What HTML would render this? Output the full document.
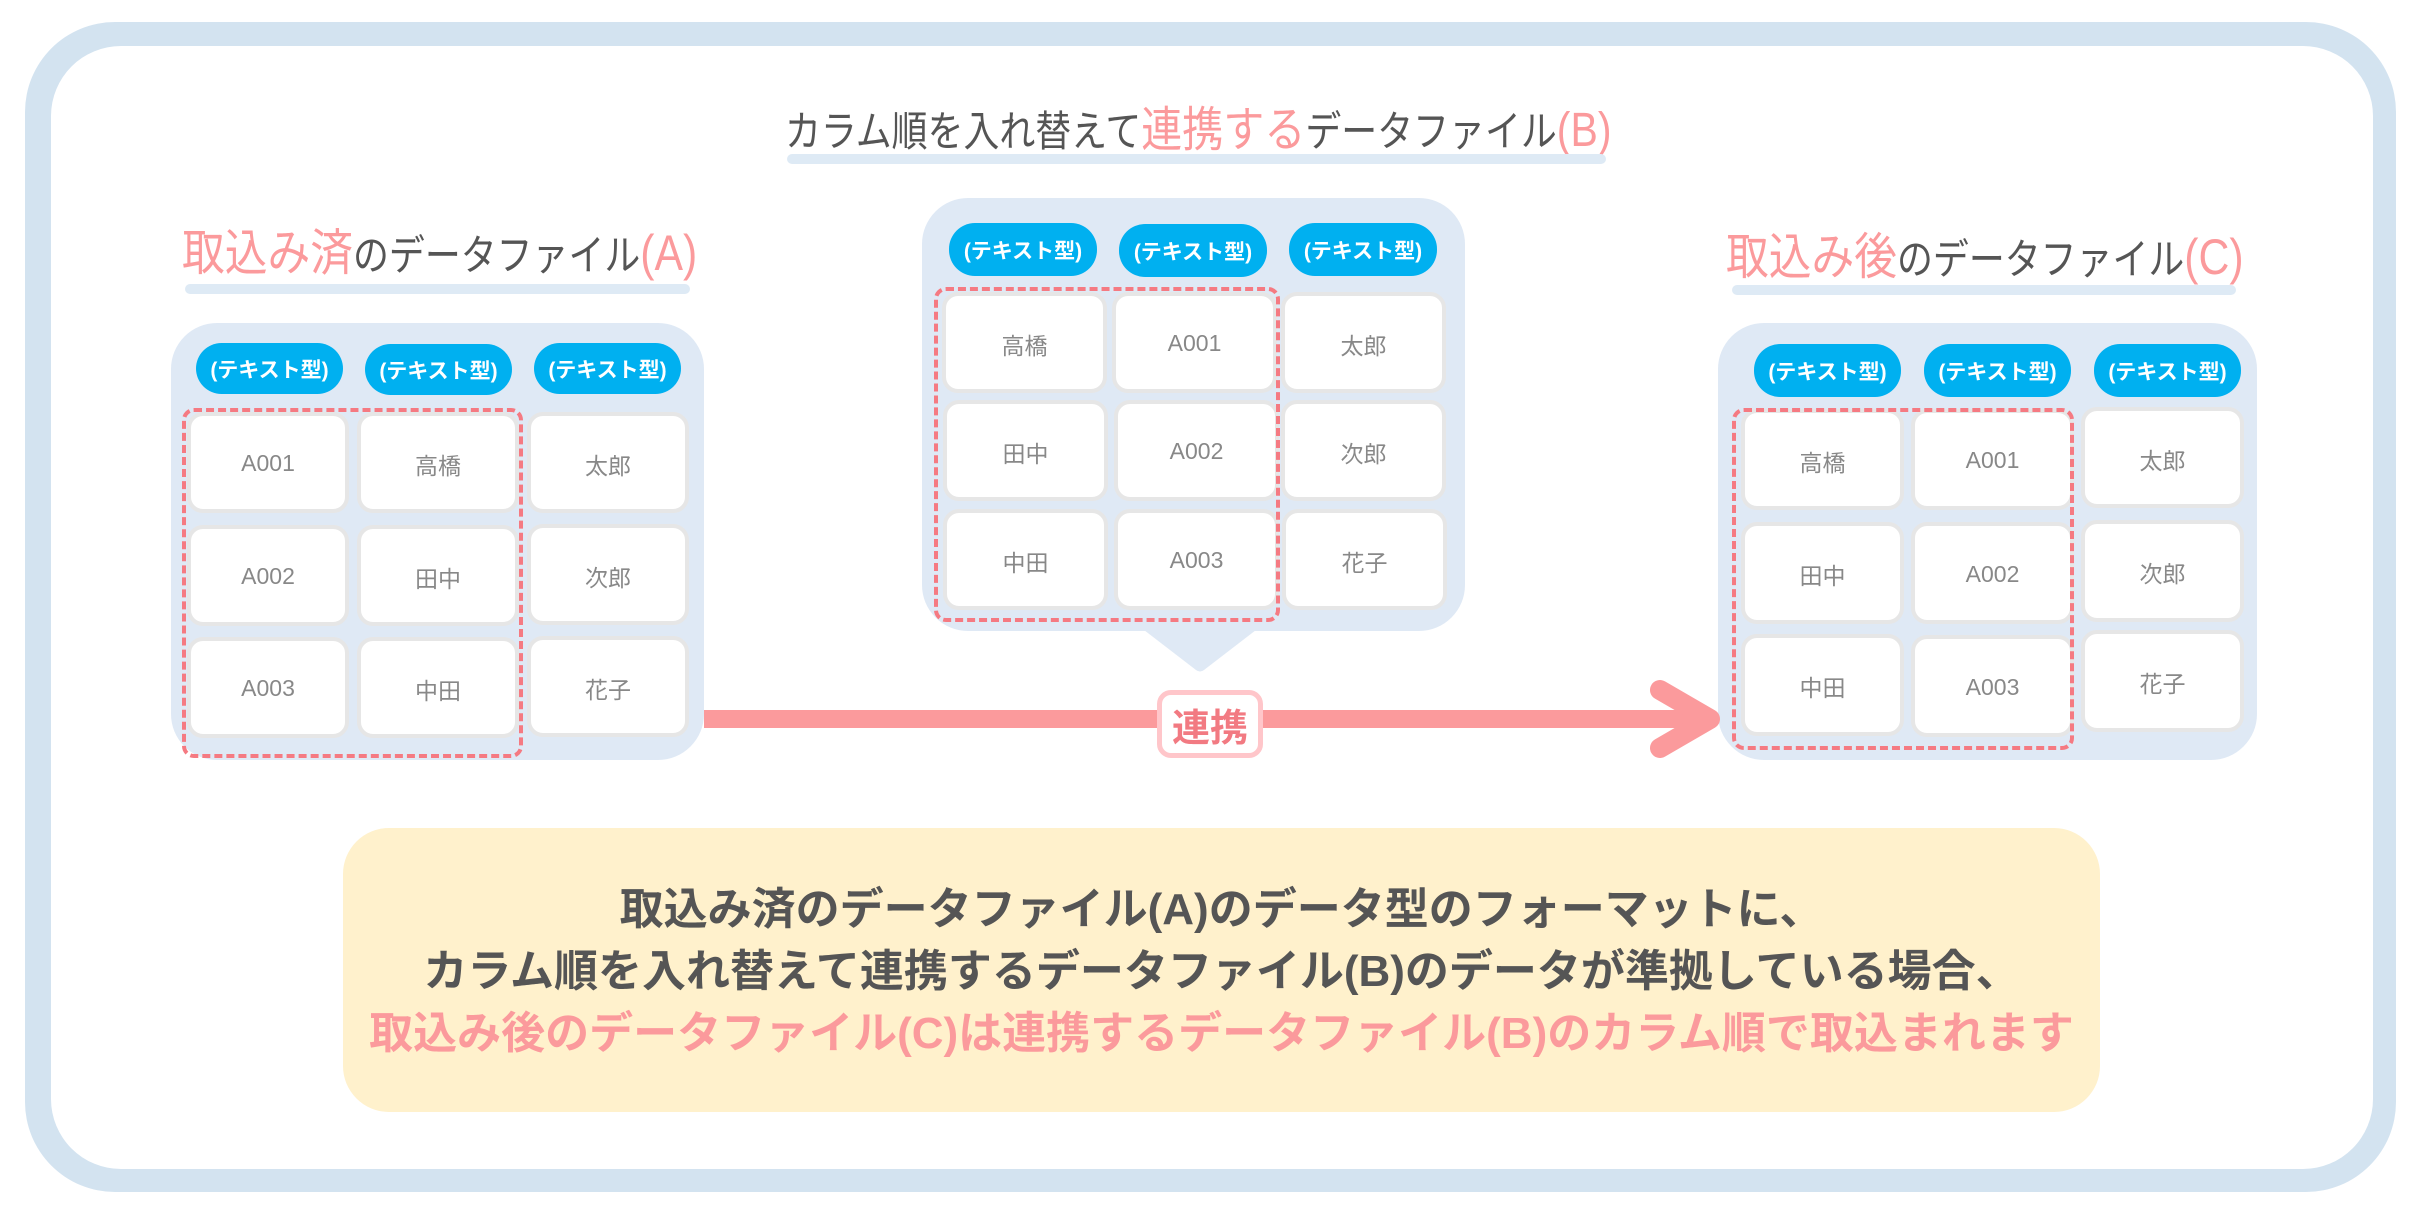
<!DOCTYPE html>
<html><head><meta charset="utf-8"><style>
*{margin:0;padding:0;box-sizing:border-box}
body{width:2421px;height:1211px;background:#fff;position:relative;overflow:hidden;font-family:"Liberation Sans","Noto Sans CJK JP",sans-serif}
.a{position:absolute}
.frame{left:25px;top:22px;width:2371px;height:1170px;background:#d3e3f0;border-radius:90px}
.inner{left:51px;top:46px;width:2322px;height:1123px;background:#fff;border-radius:70px}
.bar{position:absolute;background:#deeaf5;border-radius:5px;height:10px}
.panel{position:absolute;background:#dfe9f5;border-radius:46px}
.pill{position:absolute;background:#00b0f0;color:#fff;font-weight:bold;font-size:21px;border-radius:26px;display:flex;align-items:center;justify-content:center}
.cell{position:absolute;background:#fff;border:4px solid #e6e6e6;border-radius:16px;color:#888;font-size:23px;display:flex;align-items:center;justify-content:center;padding-top:2px}
.dash{position:absolute;border:4px dashed #f57a82;border-radius:12px}
.t{position:absolute;white-space:nowrap;color:#555;line-height:1}
.sq{transform:scaleX(0.855);transform-origin:0 0}
.pk{color:#fb9a9c}
</style></head><body>
<div class="a frame"></div><div class="a inner"></div>

<!-- Title B -->
<div class="t sq" style="left:785px;top:107px;font-size:42px;">カラム順を入れ替えて<span class="pk" style="font-size:48px">連携する</span>データファイル<span class="pk" style="font-size:48px">(B)</span></div>
<div class="bar" style="left:787px;top:154px;width:819px"></div>

<!-- Title A -->
<div class="t sq" style="left:182px;top:228px;font-size:42px;"><span class="pk" style="font-size:50px">取込み済</span>のデータファイル<span class="pk" style="font-size:50px">(A)</span></div>
<div class="bar" style="left:185px;top:284px;width:505px"></div>

<!-- Title C -->
<div class="t sq" style="left:1726px;top:232px;font-size:42px;"><span class="pk" style="font-size:50px">取込み後</span>のデータファイル<span class="pk" style="font-size:50px">(C)</span></div>
<div class="bar" style="left:1732px;top:285px;width:504px"></div>

<!-- Panel A -->
<div class="panel" style="left:171px;top:323px;width:533px;height:437px"></div>
<div class="pill" style="left:196px;top:343px;width:147px;height:51px">(テキスト型)</div>
<div class="pill" style="left:365px;top:344px;width:147px;height:51px">(テキスト型)</div>
<div class="pill" style="left:534px;top:343px;width:147px;height:51px">(テキスト型)</div>
<div class="cell" style="left:187px;top:412px;width:162px;height:101px">A001</div>
<div class="cell" style="left:357px;top:412px;width:162px;height:101px">高橋</div>
<div class="cell" style="left:527px;top:412px;width:162px;height:101px">太郎</div>
<div class="cell" style="left:187px;top:525px;width:162px;height:101px">A002</div>
<div class="cell" style="left:357px;top:525px;width:162px;height:101px">田中</div>
<div class="cell" style="left:527px;top:524px;width:162px;height:101px">次郎</div>
<div class="cell" style="left:187px;top:637px;width:162px;height:101px">A003</div>
<div class="cell" style="left:357px;top:637px;width:162px;height:101px">中田</div>
<div class="cell" style="left:527px;top:636px;width:162px;height:101px">花子</div>
<div class="dash" style="left:182px;top:408px;width:341px;height:350px"></div>

<!-- Panel B -->
<svg class="a" style="left:1130px;top:620px" width="140" height="60"><path d="M14 0 L126 0 L126 10 L74 50 Q70 53 66 50 L14 10 Z" fill="#dfe9f5"/></svg>
<div class="panel" style="left:922px;top:198px;width:543px;height:433px"></div>
<div class="pill" style="left:949px;top:223px;width:148px;height:53px">(テキスト型)</div>
<div class="pill" style="left:1119px;top:224px;width:148px;height:53px">(テキスト型)</div>
<div class="pill" style="left:1289px;top:223px;width:148px;height:53px">(テキスト型)</div>
<div class="cell" style="left:942px;top:292px;width:165px;height:101px">高橋</div>
<div class="cell" style="left:1112px;top:292px;width:165px;height:101px">A001</div>
<div class="cell" style="left:1281px;top:292px;width:165px;height:101px">太郎</div>
<div class="cell" style="left:943px;top:400px;width:165px;height:101px">田中</div>
<div class="cell" style="left:1114px;top:400px;width:165px;height:101px">A002</div>
<div class="cell" style="left:1281px;top:400px;width:165px;height:101px">次郎</div>
<div class="cell" style="left:943px;top:509px;width:165px;height:101px">中田</div>
<div class="cell" style="left:1114px;top:509px;width:165px;height:101px">A003</div>
<div class="cell" style="left:1282px;top:509px;width:165px;height:101px">花子</div>
<div class="dash" style="left:934px;top:287px;width:346px;height:335px"></div>

<!-- Panel C -->
<div class="panel" style="left:1718px;top:323px;width:539px;height:437px"></div>
<div class="pill" style="left:1754px;top:344px;width:147px;height:53px">(テキスト型)</div>
<div class="pill" style="left:1924px;top:344px;width:147px;height:53px">(テキスト型)</div>
<div class="pill" style="left:2094px;top:344px;width:147px;height:53px">(テキスト型)</div>
<div class="cell" style="left:1741px;top:409px;width:163px;height:101px">高橋</div>
<div class="cell" style="left:1911px;top:409px;width:163px;height:101px">A001</div>
<div class="cell" style="left:2081px;top:407px;width:163px;height:101px">太郎</div>
<div class="cell" style="left:1741px;top:522px;width:163px;height:102px">田中</div>
<div class="cell" style="left:1911px;top:522px;width:163px;height:102px">A002</div>
<div class="cell" style="left:2081px;top:520px;width:163px;height:102px">次郎</div>
<div class="cell" style="left:1741px;top:634px;width:163px;height:102px">中田</div>
<div class="cell" style="left:1911px;top:635px;width:163px;height:102px">A003</div>
<div class="cell" style="left:2081px;top:630px;width:163px;height:102px">花子</div>
<div class="dash" style="left:1732px;top:408px;width:342px;height:342px"></div>

<!-- Arrow -->
<svg class="a" style="left:0;top:0" width="2421" height="1211">
<line x1="704" y1="719" x2="1700" y2="719" stroke="#fb9a9c" stroke-width="18"/>
<polyline points="1660,690 1710,719 1660,748" fill="none" stroke="#fb9a9c" stroke-width="20" stroke-linecap="round" stroke-linejoin="round"/>
</svg>
<div class="a" style="left:1157px;top:690px;width:106px;height:68px;background:#fff;border:5px solid #ffc6ca;border-radius:14px;display:flex;align-items:center;justify-content:center;color:#f27a82;font-weight:bold;font-size:38px">連携</div>

<!-- Yellow box -->
<div class="a" style="left:343px;top:828px;width:1757px;height:284px;background:#fff1cc;border-radius:46px"></div>
<div class="t" style="left:343px;width:1757px;text-align:center;top:888px;font-size:44px;font-weight:bold">取込み済のデータファイル(A)のデータ型のフォーマットに、</div>
<div class="t" style="left:343px;width:1757px;text-align:center;top:950px;font-size:44px;font-weight:bold">カラム順を入れ替えて連携するデータファイル(B)のデータが準拠している場合、</div>
<div class="t pk" style="left:343px;width:1757px;text-align:center;top:1012px;font-size:44px;font-weight:bold">取込み後のデータファイル(C)は連携するデータファイル(B)のカラム順で取込まれます</div>
</body></html>
